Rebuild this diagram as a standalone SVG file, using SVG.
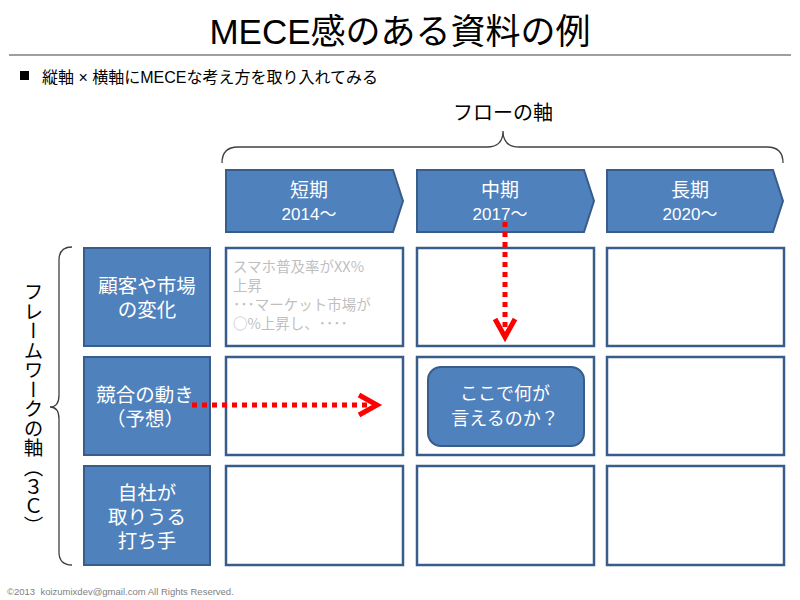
<svg xmlns="http://www.w3.org/2000/svg" width="800" height="600" viewBox="0 0 800 600">
<style>
text{font-family:"Liberation Sans","Noto Sans CJK JP",sans-serif;}
.hdr{fill:#4F81BD;stroke:#385D8A;stroke-width:2;}
.cell{fill:#FFFFFF;stroke:#385D8A;stroke-width:2.5;}
.wt{fill:#FFFFFF;font-size:19.5px;text-anchor:middle;}
.ch{fill:#FFFFFF;font-size:19px;text-anchor:middle;}
.yr{fill:#FFFFFF;font-size:17px;text-anchor:middle;}
.q{fill:#FFFFFF;font-size:18px;text-anchor:middle;}
.gray{fill:#BFBFBF;font-size:14.5px;font-family:"Noto Sans CJK JP",sans-serif;}
.brace{fill:none;stroke:#404040;stroke-width:1.3;}
.red{fill:none;stroke:#FF0000;stroke-width:5;}
</style>
<rect width="800" height="600" fill="#FFFFFF"/>
<text x="400" y="44" font-size="35" text-anchor="middle" fill="#000">MECE感のある資料の例</text>
<line x1="9" y1="55" x2="791" y2="55" stroke="#404040" stroke-width="1.2"/>
<rect x="20" y="71" width="9" height="9" fill="#000"/>
<text x="42" y="83" font-size="16" fill="#000" xml:space="preserve">縦軸 × 横軸にMECEな考え方を取り入れてみる</text>

<g id="flow-axis">
<text x="503" y="120" font-size="20" text-anchor="middle" fill="#000">フローの軸</text>
<path class="brace" d="M222,163 Q222,147 238,147 L487,147 Q503,147 503,131 Q503,147 519,147 L767,147 Q783,147 783,163"/>
</g>

<g id="frame-axis">
<text x="32" y="282" font-size="19.5" fill="#000" font-family="Noto Sans CJK JP, sans-serif" style="writing-mode:vertical-rl">フレームワークの軸（３Ｃ）</text>
<path class="brace" d="M72,247 Q59,247 59,260 L59,395 Q59,407 50,407 Q59,407 59,419 L59,552 Q59,565 72,565"/>
</g>

<g id="short">
<polygon class="hdr" points="226,170 393,170 403,201 393,232 226,232"/>
<text class="ch" x="309" y="197">短期</text>
<text class="yr" x="309" y="220">2014～</text>
</g>
<g id="mid">
<polygon class="hdr" points="417,170 584,170 594,201 584,232 417,232"/>
<text class="ch" x="500" y="197">中期</text>
<text class="yr" x="500" y="220">2017～</text>
</g>
<g id="long">
<polygon class="hdr" points="607,170 773,170 783,201 773,232 607,232"/>
<text class="ch" x="690" y="197">長期</text>
<text class="yr" x="690" y="220">2020～</text>
</g>

<g id="customer">
<rect class="hdr" x="84" y="248" width="126" height="98"/>
<text class="wt" x="147" y="293">顧客や市場</text>
<text class="wt" x="147" y="317">の変化</text>
</g>
<g id="competitor">
<rect class="hdr" x="84" y="357" width="126" height="98"/>
<text class="wt" x="145" y="402">競合の動き</text>
<text class="wt" x="145" y="426">（予想）</text>
</g>
<g id="company">
<rect class="hdr" x="84" y="466" width="126" height="99"/>
<text class="wt" x="147" y="500">自社が</text>
<text class="wt" x="147" y="524">取りうる</text>
<text class="wt" x="147" y="548">打ち手</text>
</g>

<g id="cell-1-1">
<rect class="cell" x="226" y="248" width="177" height="98"/>
<text class="gray" x="233" y="272">スマホ普及率がXX%</text>
<text class="gray" x="233" y="291">上昇</text>
<text class="gray" x="233" y="310">･･･マーケット市場が</text>
<text class="gray" x="233" y="329">○%上昇し、････</text>
</g>
<g id="cell-1-2"><rect class="cell" x="417" y="248" width="177" height="98"/></g>
<g id="cell-1-3"><rect class="cell" x="607" y="248" width="177" height="98"/></g>
<g id="cell-2-1"><rect class="cell" x="226" y="357" width="177" height="98"/></g>
<g id="cell-2-2"><rect class="cell" x="417" y="357" width="177" height="98"/></g>
<g id="cell-2-3"><rect class="cell" x="607" y="357" width="177" height="98"/></g>
<g id="cell-3-1"><rect class="cell" x="226" y="466" width="177" height="99"/></g>
<g id="cell-3-2"><rect class="cell" x="417" y="466" width="177" height="99"/></g>
<g id="cell-3-3"><rect class="cell" x="607" y="466" width="177" height="99"/></g>

<g id="question">
<rect x="428" y="367" width="156" height="79" rx="13" fill="#4F81BD" stroke="#385D8A" stroke-width="2"/>
<text class="q" x="505" y="400">ここで何が</text>
<text class="q" x="505" y="425">言えるのか？</text>
</g>

<g id="connectors">
<line class="red" x1="192" y1="405" x2="374" y2="405" stroke-dasharray="5 5"/>
<polyline class="red" points="359,395 377,405 359,415"/>
<line class="red" x1="505" y1="222" x2="505" y2="334" stroke-dasharray="5 5"/>
<polyline class="red" points="495,319 505,337 515,319"/>
</g>

<text x="7" y="595" font-size="9.5" fill="#7F7F7F" xml:space="preserve">©2013  koizumixdev@gmail.com All Rights Reserved.</text>
</svg>
